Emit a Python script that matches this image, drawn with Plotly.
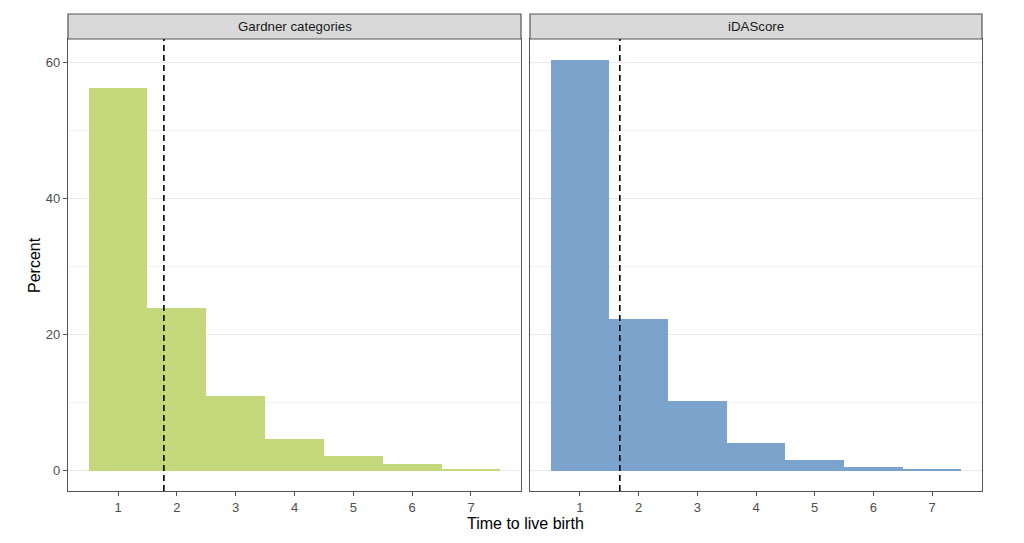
import plotly.graph_objects as go
from plotly.subplots import make_subplots

panels = ["Gardner categories", "iDAScore"]
time_bins = [1, 2, 3, 4, 5, 6, 7]
gardner_pct = [56.3, 24.0, 11.0, 4.7, 2.25, 1.0, 0.3]
idascore_pct = [60.4, 22.3, 10.3, 4.1, 1.6, 0.63, 0.25]
mean_lines = [1.78, 1.68]
colors = ["#C5D97C", "#7CA3CC"]
y_ticks = [0, 20, 40, 60]
x_ticks = [1, 2, 3, 4, 5, 6, 7]

fig = make_subplots(rows=1, cols=2, shared_yaxes=True, horizontal_spacing=0.0099)

for i, vals in enumerate([gardner_pct, idascore_pct]):
    fig.add_trace(go.Bar(x=time_bins, y=vals, width=1, marker=dict(color=colors[i], line=dict(width=0)),
                         showlegend=False), row=1, col=i + 1)

W, H = 1024, 543
# page body has an 8px margin, compensate
ml, mr, mt, mb = 60, 50, 31, 60
pw = W - ml - mr
ph = H - mt - mb
d1 = [0, (521 - 68) / pw]
d2 = [(530 - 68) / pw, (982 - 68) / pw]
strip_top = 1 + 25 / ph

FONT = "Liberation Sans, Arial"
axis_common = dict(showline=True, linecolor="#555555", linewidth=1.2, mirror=True,
                   ticks="outside", ticklen=4, tickcolor="#555555",
                   tickfont=dict(family=FONT, size=13, color="#4d4d4d"),
                   zeroline=False)

fig.update_xaxes(range=[0.15, 7.85], tickvals=x_ticks, showgrid=False, **axis_common)
fig.update_yaxes(range=[-2.95, 63.45], tickvals=y_ticks, showgrid=True, gridcolor="#ebebeb",
                 gridwidth=1, minor=dict(dtick=10, tick0=0, showgrid=True, gridcolor="#f2f2f2", gridwidth=0.8),
                 **axis_common)
fig.update_layout(xaxis=dict(domain=d1), xaxis2=dict(domain=d2))
fig.update_yaxes(ticks="", row=1, col=2)

shapes = []
annotations = []
for i, (dom, name) in enumerate(zip([d1, d2], panels)):
    shapes.append(dict(type="rect", xref="paper", yref="paper", x0=dom[0], x1=dom[1], y0=1, y1=strip_top,
                       fillcolor="#d9d9d9", line=dict(color="#555555", width=1.2), layer="above"))
    annotations.append(dict(text=name, xref="paper", yref="paper", x=(dom[0] + dom[1]) / 2,
                            y=(1 + strip_top) / 2, showarrow=False, xanchor="center", yanchor="middle",
                            font=dict(family=FONT, size=13.3, color="#1a1a1a")))
    xr = "x" if i == 0 else "x2"
    yr = "y domain" if i == 0 else "y2 domain"
    shapes.append(dict(type="line", xref=xr, yref=yr, x0=mean_lines[i], x1=mean_lines[i], y0=0, y1=1,
                       line=dict(color="black", width=1.6, dash="6px,4px")))

annotations.append(dict(text="Time to live birth", xref="paper", yref="paper", x=(d2[1]) / 2, y=0,
                        yshift=-32, showarrow=False, xanchor="center", yanchor="middle",
                        font=dict(family=FONT, size=16, color="black")))
annotations.append(dict(text="Percent", xref="paper", yref="paper", x=0, xshift=-34, y=0.5,
                        textangle=-90, showarrow=False, xanchor="center", yanchor="middle",
                        font=dict(family=FONT, size=16, color="black")))

fig.update_layout(width=W, height=H, margin=dict(l=ml, r=mr, t=mt, b=mb),
                  plot_bgcolor="white", paper_bgcolor="white", bargap=0,
                  shapes=shapes, annotations=annotations)

fig.write_html("out.html")
